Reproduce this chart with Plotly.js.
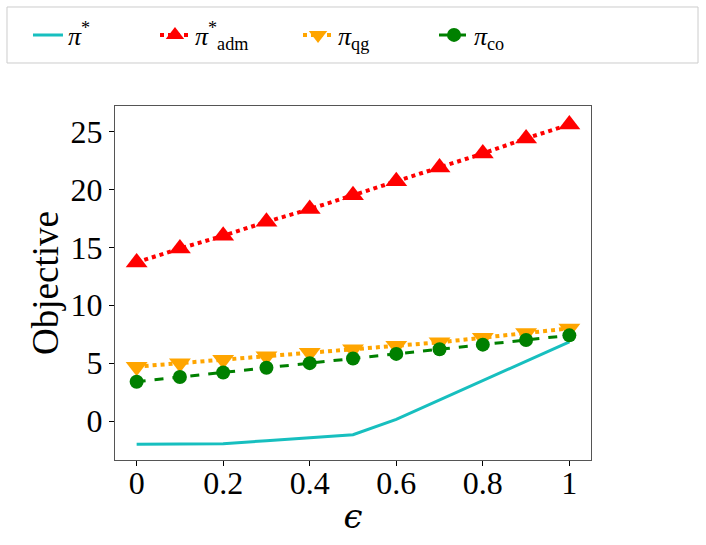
<!DOCTYPE html>
<html>
<head>
<meta charset="utf-8">
<script src="https://cdn.plot.ly/plotly-3.0.1.min.js"></script>
<style>body{margin:0;padding:0;background:#fff;}</style>
</head>
<body>
<div id="myDiv" style="width:706px;height:545px;"></div>
<script>
// epsilon values on the x axis
var eps = [0, 0.1, 0.2, 0.3, 0.4, 0.5, 0.6, 0.7, 0.8, 0.9, 1];

// objective per policy
var piStar = [-2.0, -2.0, -1.95, -1.7, -1.47, -1.18, 0.14, 1.8, 3.45, 5.17, 6.84];
var piAdm  = [13.7, 14.9, 16.0, 17.2, 18.3, 19.5, 20.7, 21.9, 23.1, 24.4, 25.6];
var piQg   = [4.7, 5.0, 5.3, 5.6, 5.9, 6.2, 6.5, 6.8, 7.2, 7.6, 8.0];
var piCo   = [3.4, 3.8, 4.2, 4.6, 5.0, 5.4, 5.8, 6.2, 6.6, 7.0, 7.4];

var xTickVals = [0, 0.2, 0.4, 0.6, 0.8, 1];
var xTickText = ['0', '0.2', '0.4', '0.6', '0.8', '1'];
var yTickVals = [0, 5, 10, 15, 20, 25];

var serif = 'Liberation Serif, Times New Roman, serif';

var trace1 = {
    x: eps, y: piStar, type: 'scatter', mode: 'lines',
    name: '<i>π</i><sup>*</sup>', legend: 'legend',
    line: {color: '#17bfbf', width: 3}
};
var trace2 = {
    x: eps, y: piAdm, type: 'scatter', mode: 'lines+markers',
    name: '<i>π</i><sup>*</sup><sub>adm</sub>', legend: 'legend2',
    line: {color: '#ff0000', width: 4, dash: 'dot'},
    marker: {symbol: 'triangle-up', size: 19, color: '#ff0000'}
};
var trace3 = {
    x: eps, y: piQg, type: 'scatter', mode: 'lines+markers',
    name: '<i>π</i><sub>qg</sub>', legend: 'legend3',
    line: {color: '#ffa500', width: 4, dash: 'dot'},
    marker: {symbol: 'triangle-down', size: 19, color: '#ffa500'}
};
var trace4 = {
    x: eps, y: piCo, type: 'scatter', mode: 'lines+markers',
    name: '<i>π</i><sub>co</sub>', legend: 'legend4',
    line: {color: '#008000', width: 3, dash: 'dash'},
    marker: {symbol: 'circle', size: 14, color: '#008000'}
};

// one legend per entry so the row can span the full width
function legendAt(x) {
    return {
        x: x, xanchor: 'left',
        y: 1.2006, yanchor: 'middle',
        borderwidth: 0,
        bgcolor: 'rgba(0,0,0,0)',
        font: {family: serif, size: 26}
    };
}

var layout = {
    width: 706,
    height: 545,
    margin: {l: 115, r: 115, t: 106, b: 85, pad: 0, autoexpand: false},
    paper_bgcolor: '#fff',
    plot_bgcolor: '#fff',
    font: {family: serif, color: '#000'},
    showlegend: true,
    legend: legendAt(-0.1828),
    legend2: legendAt(0.084),
    legend3: legendAt(0.3845),
    legend4: legendAt(0.6702),
    shapes: [{
        type: 'rect', xref: 'paper', yref: 'paper',
        x0: -0.2269, x1: 1.2248, y0: 1.1215, y1: 1.2797,
        line: {color: '#cccccc', width: 1},
        fillcolor: 'rgba(0,0,0,0)',
        layer: 'below'
    }],
    xaxis: {
        range: [-0.05, 1.05],
        tickvals: xTickVals, ticktext: xTickText,
        ticks: 'outside', ticklen: 5, tickcolor: '#000',
        ticklabelstandoff: -11,
        tickfont: {family: serif, size: 32},
        showgrid: false, zeroline: false,
        showline: true, mirror: true, linecolor: '#555', linewidth: 1.2,
        title: {text: '<i>ϵ</i>', font: {family: 'DejaVu Serif, serif', size: 34}, standoff: 4}
    },
    yaxis: {
        range: [-3.36, 27.2],
        tickvals: yTickVals,
        ticks: 'outside', ticklen: 5, tickcolor: '#000',
        tickfont: {family: serif, size: 32},
        showgrid: false, zeroline: false,
        showline: true, mirror: true, linecolor: '#555', linewidth: 1.2,
        title: {text: 'Objective', font: {family: serif, size: 37}, standoff: 0}
    }
};

Plotly.newPlot('myDiv', [trace1, trace2, trace3, trace4], layout, {displayModeBar: false});
</script>
</body>
</html>
